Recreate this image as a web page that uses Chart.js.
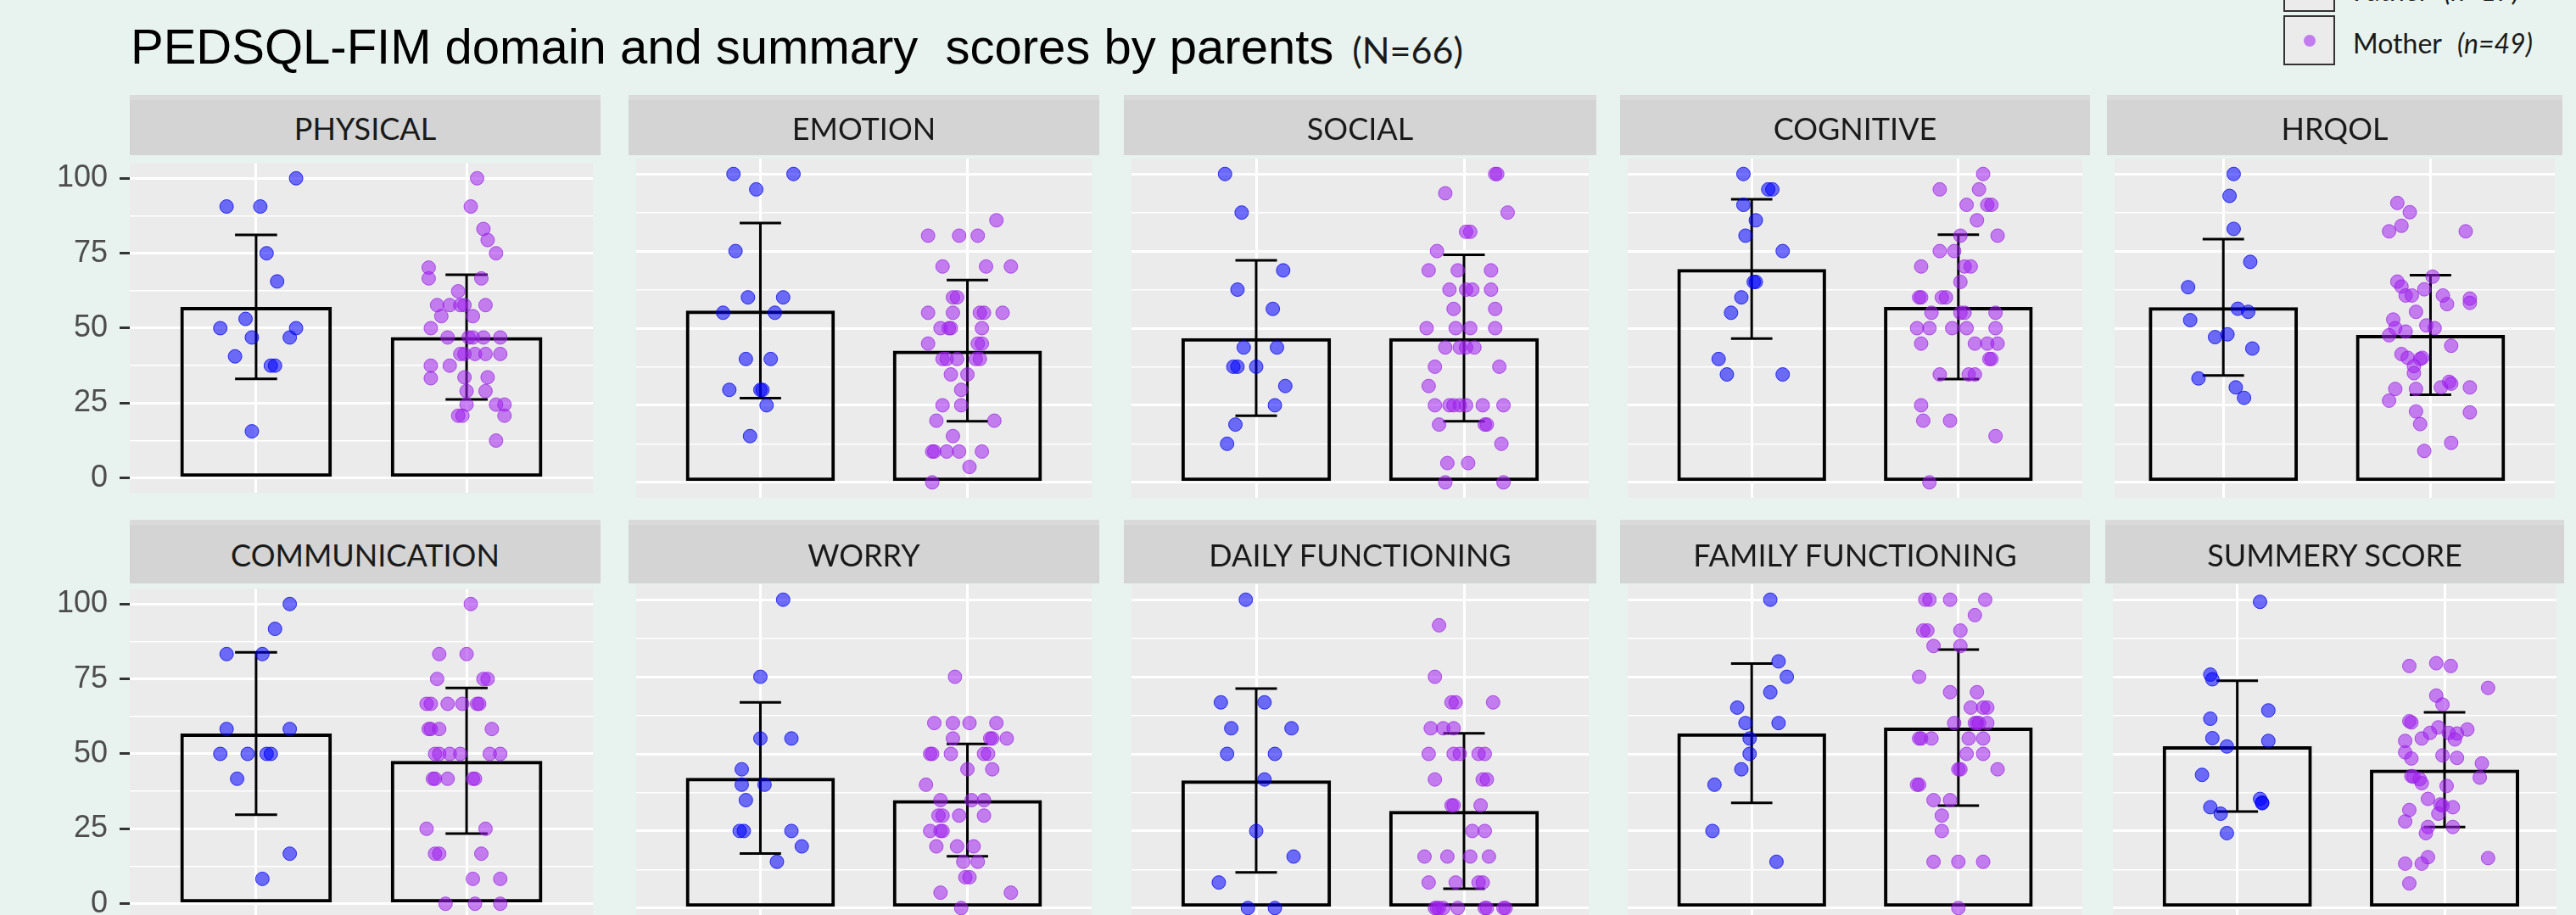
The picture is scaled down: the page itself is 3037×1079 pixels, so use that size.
<!DOCTYPE html>
<html>
<head>
<meta charset="utf-8">
<script src="https://cdn.jsdelivr.net/npm/chart.js@4.4.1/dist/chart.umd.min.js"></script>
<style>
  html, body { margin: 0; padding: 0; background: #e8f2ee; width: 3037px; height: 1079px; overflow: hidden; position: relative; }
  #title { position: absolute; left: 154px; top: 26px; font: 58px "Liberation Sans", Arial, sans-serif; line-height: 58px; color: #000; white-space: pre; z-index: 3; }
  #title span { font-family: Lato, sans-serif; font-size: 43px; color: #1a1a1a; margin-left: 22px; }
  .strip { position: absolute; box-sizing: border-box; background: #d3d4d3; border-top: 6px solid #dadada; display: flex; align-items: center; justify-content: center; font: 36px Lato, sans-serif; color: #1a1a1a; z-index: 2; }
  canvas { position: absolute; z-index: 1; }
  .key { position: absolute; left: 2692px; width: 61px; height: 59px; box-sizing: border-box; border: 2px solid #333; background: #ebebeb; z-index: 3; }
  .key i { position: absolute; left: 22px; top: 21px; width: 14px; height: 14px; border-radius: 50%; }
  .ltxt { position: absolute; left: 2774px; font: 32px Lato, sans-serif; line-height: 32px; color: #1a1a1a; white-space: pre; z-index: 3; }
  .ltxt em { margin-left: 18px; }
</style>
</head>
<body>
<div id="title">PEDSQL-FIM domain and summary  scores by parents<span>(N=66)</span></div>
<div class="key" style="top:-45px"><i style="background:rgba(0,0,255,0.55)"></i></div>
<div class="ltxt" style="top:-27px">Father<em>(n=17)</em></div>
<div class="key" style="top:18px"><i style="background:rgba(160,32,240,0.55)"></i></div>
<div class="ltxt" style="top:35px">Mother<em>(n=49)</em></div>

<script>
const domains = ['PHYSICAL', 'EMOTION', 'SOCIAL', 'COGNITIVE', 'HRQOL',
  'COMMUNICATION', 'WORRY', 'DAILY FUNCTIONING', 'FAMILY FUNCTIONING', 'SUMMERY SCORE'];
const groups = ['Father', 'Mother'];
const yTicks = [0, 12.5, 25, 37.5, 50, 62.5, 75, 87.5, 100];
const yLabels = [0, 25, 50, 75, 100];

const fatherMeans = [57.1, 55.7, 46.8, 69.2, 56.8, 56.8, 42.2, 41.4, 56.7, 52.5];
const fatherSds   = [24.0, 28.4, 25.2, 22.6, 22.1, 27.1, 24.5, 29.8, 22.6, 21.2];
const motherMeans = [47.0, 42.7, 46.8, 56.9, 47.8, 47.7, 35.0, 31.5, 58.5, 44.9];
const motherSds   = [20.8, 22.9, 27.0, 23.4, 19.4, 24.3, 18.2, 25.2, 25.3, 18.6];

const fatherScores = [
  [100, 90.6, 90.6, 75, 65.6, 53.1, 50, 50, 46.9, 46.9, 40.6, 37.5, 37.5, 15.6],
  [100, 100, 95, 75, 60, 60, 55, 55, 40, 40, 30, 30, 30, 25, 15],
  [100, 87.5, 68.75, 62.5, 56.25, 43.75, 43.75, 37.5, 37.5, 37.5, 31.25, 25, 18.75, 12.5],
  [100, 95, 95, 90, 85, 80, 75, 65, 65, 60, 55, 40, 35, 35],
  [100, 92.9, 82.2, 71.5, 63.3, 56.3, 55.3, 52.6, 47.1, 48, 43.4, 33.7, 30.8, 27.4],
  [100, 91.7, 83.3, 83.3, 58.3, 58.3, 50, 50, 50, 50, 41.7, 16.7, 8.3],
  [100, 75, 55, 55, 45, 40, 40, 35, 25, 25, 25, 20, 15],
  [100, 66.7, 66.7, 58.3, 58.3, 50, 50, 41.7, 25, 16.7, 8.3, 0, 0],
  [100, 80, 75, 70, 65, 60, 60, 55, 50, 45, 40, 25, 15],
  [99.3, 75.7, 74.2, 64.1, 61.4, 55.1, 52.4, 54.2, 43.2, 35.4, 34.2, 34.0, 32.7, 30.6, 24.3]
];
const fatherJitter = [
  [0.19, -0.14, 0.02, 0.05, 0.10, -0.05, -0.17, 0.19, -0.02, 0.16, -0.10, 0.07, 0.09, -0.02],
  [-0.13, 0.16, -0.02, -0.12, -0.06, 0.11, -0.18, 0.07, -0.07, 0.05, -0.15, 0, 0.01, 0.03, -0.05],
  [-0.15, -0.07, 0.13, -0.09, 0.08, -0.06, 0.10, -0.11, -0.09, 0, 0.14, 0.09, -0.10, -0.14],
  [-0.04, 0.08, 0.10, -0.04, 0.02, -0.03, 0.15, 0.01, 0.02, -0.05, -0.10, -0.16, -0.12, 0.15],
  [0.05, 0.03, 0.05, 0.13, -0.17, 0.07, 0.12, -0.16, -0.04, 0.02, 0.14, -0.12, 0.06, 0.10],
  [0.16, 0.09, -0.14, 0.03, -0.14, 0.16, -0.17, -0.04, 0.05, 0.07, -0.09, 0.16, 0.03],
  [0.11, 0, 0, 0.15, -0.09, -0.09, 0.02, -0.07, -0.10, -0.08, 0.15, 0.20, 0.08],
  [-0.05, -0.17, 0.04, -0.12, 0.17, -0.14, 0.09, 0.04, 0, 0.18, -0.18, -0.04, 0.09],
  [0.09, 0.13, 0.17, 0.09, -0.07, -0.03, 0.13, -0.01, -0.01, -0.05, -0.18, -0.19, 0.12],
  [0.11, -0.13, -0.12, 0.15, -0.13, -0.12, -0.05, 0.15, -0.17, 0.11, 0.12, 0.12, -0.13, -0.08, -0.05]
];

const motherScores = [
  [100, 90.6, 83.1, 79.4, 75, 70.2, 66.6, 66.6, 62.3, 57.7, 57.7, 57.7, 57.7, 57.7, 54, 54, 50,
   46.9, 46.9, 46.9, 46.9, 46.9, 41.4, 41.4, 41.4, 41.4, 41.4, 37.5, 37.5, 33.3, 33.6, 33.6,
   29, 29, 24.5, 24.5, 24.5, 20.8, 20.8, 20.8, 12.5],
  [85, 80, 80, 80, 70, 70, 70, 60, 60, 55, 55, 55, 55, 55, 50, 50, 50, 50, 45, 45, 45,
   40, 40, 40, 40, 40, 35, 35, 30, 25, 25, 20, 20, 15, 10, 10, 10, 10, 10, 5, 0],
  [100, 100, 93.75, 87.5, 81.25, 81.25, 75, 68.75, 68.75, 68.75, 62.5, 62.5, 62.5, 62.5,
   56.25, 56.25, 50, 50, 50, 50, 43.75, 43.75, 43.75, 43.75, 37.5, 37.5, 31.25,
   25, 25, 25, 25, 25, 25, 25, 18.75, 18.75, 18.75, 12.5, 6.25, 6.25, 0, 0],
  [100, 95, 95, 90, 90, 90, 85, 80, 80, 75, 75, 70, 70, 70, 65, 60, 60, 60, 60, 55, 55, 55, 55,
   50, 50, 50, 50, 50, 45, 45, 45, 45, 40, 40, 35, 35, 35, 25, 20, 20, 15, 0],
  [90.6, 87.6, 83.2, 81.4, 81.4, 66.7, 65.1, 63.5, 62.6, 60.6, 60.6, 60.6, 57.8, 59.6, 58.2,
   55.3, 52.8, 50.9, 50, 50, 48.9, 47.7, 44.3, 41.6, 40.4, 40.4, 40.0, 37.7, 35.4, 32.6, 32.0,
   30.3, 30.3, 30.8, 30.8, 26.5, 23.0, 22.7, 18.9, 12.8, 10.2],
  [100, 83.3, 83.3, 75, 75, 75, 66.7, 66.7, 66.7, 66.7, 66.7, 66.7, 58.3, 58.3, 58.3, 58.3,
   50, 50, 50, 50, 50, 50, 41.7, 41.7, 41.7, 41.7, 41.7, 25, 25, 16.7, 16.7, 16.7, 8.3, 8.3, 0, 0, 0],
  [75, 60, 60, 60, 60, 55, 55, 55, 55, 50, 50, 50, 50, 50, 45, 45, 40, 35, 35, 35,
   30, 30, 30, 30, 25, 25, 25, 20, 20, 20, 15, 15, 10, 10, 5, 5, 0],
  [91.7, 75, 66.7, 66.7, 66.7, 58.3, 58.3, 58.3, 50, 50, 50, 50, 50, 41.7, 41.7, 41.7,
   33.3, 33.3, 33.3, 25, 25, 16.7, 16.7, 16.7, 16.7, 8.3, 8.3, 8.3, 8.3,
   0, 0, 0, 0, 0, 0, 0, 0, 0],
  [100, 100, 100, 100, 95, 90, 90, 90, 85, 85, 75, 70, 70, 65, 65, 65, 60, 60, 60, 60, 60,
   55, 55, 55, 55, 55, 50, 50, 45, 45, 45, 40, 40, 35, 35, 30, 25, 15, 15, 15, 0],
  [78.5, 79.4, 78.5, 71.4, 68.9, 66.0, 60.6, 60.2, 58.6, 56.8, 56.8, 56.6, 57.9, 55.0, 54.2,
   54.7, 50.5, 48.5, 49.5, 48.7, 46.9, 42.3, 42.8, 42.6, 41.8, 40.5, 39.6, 35.4, 33.6, 33.2,
   32.7, 30.6, 31.8, 28.1, 26.3, 26.3, 24.3, 16.5, 14.4, 14.4, 16.2, 8.0]
];
const motherJitter = [
  [0.05, 0.02, 0.08, 0.10, 0.14, -0.18, -0.18, 0.07, -0.04, -0.14, -0.08, -0.03, -0.01, 0.09,
   -0.12, 0.03, -0.17, -0.09, 0.01, 0.03, 0.08, 0.16, -0.03, -0.01, 0.04, 0.09, 0.16, -0.17, -0.08,
   -0.17, -0.01, 0.10, 0, 0.09, 0, 0.14, 0.18, -0.04, -0.02, 0.18, 0.14],
  [0.14, -0.19, -0.04, 0.05, -0.12, 0.09, 0.21, -0.07, -0.05, -0.19, -0.07, 0.06, 0.08, 0.17,
   -0.13, -0.09, -0.08, 0.07, -0.19, 0.05, 0.07, -0.12, -0.10, -0.05, 0.04, 0.06, -0.08, 0, -0.03,
   -0.12, -0.03, -0.15, 0.13, -0.07, -0.17, -0.16, -0.10, -0.04, 0.07, 0.01, -0.17],
  [0.15, 0.16, -0.09, 0.21, 0.01, 0.03, -0.13, -0.17, -0.03, 0.13, -0.07, 0.01, 0.04, 0.13,
   -0.05, 0.15, -0.18, -0.04, 0.03, 0.15, -0.09, -0.02, 0.01, 0.05, -0.14, 0.17, -0.17,
   -0.14, -0.07, -0.05, -0.02, 0.01, 0.09, 0.19, -0.12, 0.10, 0.11, 0.18, -0.08, 0.02, -0.09, 0.19],
  [0.12, -0.09, 0.10, 0.04, 0.14, 0.16, 0.09, 0.01, 0.19, -0.09, -0.02, -0.18, 0.03, 0.06, 0.01,
   -0.19, -0.18, -0.08, -0.06, -0.13, 0.01, 0.03, 0.18, -0.20, -0.14, -0.03, 0.04, 0.18,
   -0.18, 0.08, 0.14, 0.19, 0.15, 0.16, -0.09, 0.05, 0.08, -0.18, -0.17, -0.04, 0.18, -0.14],
  [-0.16, -0.10, -0.14, -0.20, 0.17, 0.01, -0.16, -0.14, -0.03, -0.12, -0.09, 0.06, 0.08, 0.19,
   0.19, -0.07, -0.18, -0.02, 0.02, -0.17, -0.12, -0.20, 0.10, -0.14, -0.11, -0.04, -0.05, -0.08,
   -0.08, 0.09, 0.10, -0.17, -0.07, 0.05, 0.19, -0.20, -0.07, 0.19, -0.05, 0.10, -0.03],
  [0.02, -0.13, 0, -0.14, 0.08, 0.10, -0.19, -0.17, -0.09, -0.02, 0.05, 0.06, -0.18, -0.17,
   -0.13, 0.12, -0.15, -0.13, -0.08, -0.03, 0.11, 0.16, -0.16, -0.15, -0.09, 0.03, 0.04,
   -0.19, 0.09, -0.15, -0.13, 0.07, 0.03, 0.16, -0.10, 0.04, 0.16],
  [-0.06, -0.16, -0.07, 0.01, 0.14, -0.07, 0.11, 0.12, 0.19, -0.18, -0.17, -0.08, 0.08, 0.10,
   0, 0.12, -0.20, -0.13, 0.02, 0.08, -0.14, -0.12, -0.04, 0.08, -0.18, -0.13, -0.12,
   -0.15, -0.05, 0.03, -0.02, 0.05, -0.01, 0.01, -0.13, 0.21, -0.03],
  [-0.12, -0.14, -0.06, -0.04, 0.14, -0.16, -0.10, -0.05, -0.17, -0.05, -0.02, 0.07, 0.10,
   -0.14, 0.09, 0.11, -0.06, -0.05, 0.08, 0.04, 0.10, -0.19, -0.08, 0.03, 0.12,
   -0.17, -0.04, 0.07, 0.09, -0.14, -0.13, -0.12, -0.10, -0.03, 0.10, 0.11, 0.19, 0.20],
  [-0.16, -0.14, -0.04, 0.13, 0.08, -0.17, -0.15, 0.01, -0.12, 0.01, -0.19, -0.04, 0.09,
   0.06, 0.12, 0.14, -0.02, 0.08, 0.09, 0.10, 0.14, -0.19, -0.18, -0.13, 0.05, 0.12,
   0.04, 0.12, 0, 0.01, 0.19, -0.20, -0.19, -0.12, -0.04, -0.08, -0.08, -0.12, 0, 0.12, 0],
  [-0.17, -0.04, 0.03, 0.21, -0.04, -0.01, -0.17, -0.16, -0.03, -0.07, 0.02, 0.06, 0.11, -0.11,
   -0.19, 0.05, -0.19, -0.16, -0.01, 0.06, 0.18, 0.17, -0.16, -0.15, -0.12, -0.11, 0.01, -0.08,
   -0.02, -0.01, 0.04, -0.03, -0.17, -0.19, -0.08, 0.04, -0.09, -0.08, -0.19, -0.11, 0.21, -0.17]
];

// panel geometry (page pixels) and x-range of each facet
const panels = [
  { left: 153, width: 555, xMin: 0.4, xMax: 2.6 },
  { left: 741, width: 555, xMin: 0.4, xMax: 2.6 },
  { left: 1325, width: 557, xMin: 0.4, xMax: 2.6 },
  { left: 1910, width: 554, xMin: 0.4, xMax: 2.6 },
  { left: 2484, width: 537, xMin: 0.475, xMax: 2.6 },
  { left: 153, width: 555, xMin: 0.4, xMax: 2.6 },
  { left: 741, width: 555, xMin: 0.4, xMax: 2.6 },
  { left: 1325, width: 557, xMin: 0.4, xMax: 2.6 },
  { left: 1910, width: 554, xMin: 0.4, xMax: 2.6 },
  { left: 2482, width: 541, xMin: 0.4, xMax: 2.54 }
];
const rowPlotTop = [187, 689];
const rowStripTop = [112, 613];
const rowStripHeight = [71, 75];
const plotHeight = 400;
const pad = 30;

const fatherFill = 'rgba(0,0,255,0.55)';
const fatherLine = 'rgba(0,0,235,0.75)';
const motherFill = 'rgba(160,32,240,0.55)';
const motherLine = 'rgba(150,30,225,0.7)';

const panelBg = {
  id: 'panelBg',
  beforeDraw(chart) {
    const { ctx, chartArea: a } = chart;
    ctx.save();
    ctx.fillStyle = '#ebebeb';
    ctx.fillRect(a.left, a.top, a.right - a.left, a.bottom - a.top);
    ctx.restore();
  }
};

const errorBars = {
  id: 'errorBars',
  afterDatasetDraw(chart, args, opts) {
    if (args.index !== 0) return;
    const { ctx, scales: { x, y } } = chart;
    ctx.save();
    ctx.strokeStyle = '#000';
    ctx.lineWidth = 3;
    opts.means.forEach((m, i) => {
      const cx = x.getPixelForValue(i + 1);
      const half = x.getPixelForValue(i + 1.1) - cx;
      const top = y.getPixelForValue(m + opts.sds[i]);
      const bot = y.getPixelForValue(m - opts.sds[i]);
      ctx.beginPath();
      ctx.moveTo(cx, top); ctx.lineTo(cx, bot);
      ctx.moveTo(cx - half, top); ctx.lineTo(cx + half, top);
      ctx.moveTo(cx - half, bot); ctx.lineTo(cx + half, bot);
      ctx.stroke();
    });
    ctx.restore();
  }
};

domains.forEach((name, d) => {
  const row = d < 5 ? 0 : 1;
  const col = d % 5;
  const p = panels[d];
  const axisW = col === 0 ? 153 : 0;

  const strip = document.createElement('div');
  strip.className = 'strip';
  strip.textContent = name;
  Object.assign(strip.style, {
    left: p.left + 'px', top: rowStripTop[row] + 'px',
    width: p.width + 'px', height: rowStripHeight[row] + 'px'
  });
  document.body.appendChild(strip);

  const canvas = document.createElement('canvas');
  canvas.width = p.width + axisW;
  canvas.height = plotHeight + 2 * pad;
  canvas.style.left = (p.left - axisW) + 'px';
  canvas.style.top = (rowPlotTop[row] - pad) + 'px';
  document.body.appendChild(canvas);

  if (fatherScores[d].length !== fatherJitter[d].length || motherScores[d].length !== motherJitter[d].length) {
    console.error('length mismatch in ' + name);
  }
  const fatherPts = fatherScores[d].map((v, i) => ({ x: 1 + fatherJitter[d][i], y: v }));
  const motherPts = motherScores[d].map((v, i) => ({ x: 2 + motherJitter[d][i], y: v }));
  const means = [fatherMeans[d], motherMeans[d]];
  const sds = [fatherSds[d], motherSds[d]];

  new Chart(canvas, {
    type: 'bar',
    data: {
      datasets: [
        {
          type: 'bar',
          label: 'mean',
          data: groups.map((g, i) => ({ x: i + 1, y: means[i] })),
          backgroundColor: 'rgba(0,0,0,0)',
          borderColor: '#000',
          borderWidth: 4,
          borderSkipped: false,
          barPercentage: 0.72,
          categoryPercentage: 1,
          order: 3
        },
        {
          type: 'scatter',
          label: groups[0],
          data: fatherPts,
          pointRadius: 8,
          pointHoverRadius: 8,
          backgroundColor: fatherFill,
          borderColor: fatherLine,
          borderWidth: 1,
          order: 1
        },
        {
          type: 'scatter',
          label: groups[1],
          data: motherPts,
          pointRadius: 8,
          pointHoverRadius: 8,
          backgroundColor: motherFill,
          borderColor: motherLine,
          borderWidth: 1,
          order: 2
        }
      ]
    },
    options: {
      responsive: false,
      animation: false,
      events: [],
      layout: { padding: { top: pad, bottom: pad, left: 0, right: 0 } },
      plugins: {
        legend: { display: false },
        tooltip: { enabled: false },
        errorBars: { means, sds }
      },
      scales: {
        x: {
          type: 'linear',
          offset: false,
          min: p.xMin,
          max: p.xMax,
          afterBuildTicks: s => { s.ticks = [{ value: 1 }, { value: 2 }]; },
          afterFit: s => { s.height = 0; },
          grid: { color: '#ffffff', lineWidth: 3, drawTicks: false, offset: false },
          border: { display: false },
          ticks: { display: false }
        },
        y: {
          min: -5,
          max: 105,
          afterBuildTicks: s => { s.ticks = yTicks.map(v => ({ value: v })); },
          afterFit: s => { s.width = axisW; },
          grid: {
            color: '#ffffff',
            lineWidth: c => (yLabels.includes(c.tick.value) ? 3 : 1.5),
            drawTicks: col === 0,
            tickLength: 12,
            tickWidth: 3,
            tickColor: c => (yLabels.includes(c.tick.value) ? '#333333' : 'rgba(0,0,0,0)')
          },
          border: { display: false },
          ticks: {
            display: col === 0,
            padding: 14,
            color: '#4d4d4d',
            font: { family: '"Liberation Sans", Arial, sans-serif', size: 36 },
            callback: v => (yLabels.includes(v) ? String(v) : '')
          }
        }
      }
    },
    plugins: [panelBg, errorBars]
  });
});
</script>
</body>
</html>
